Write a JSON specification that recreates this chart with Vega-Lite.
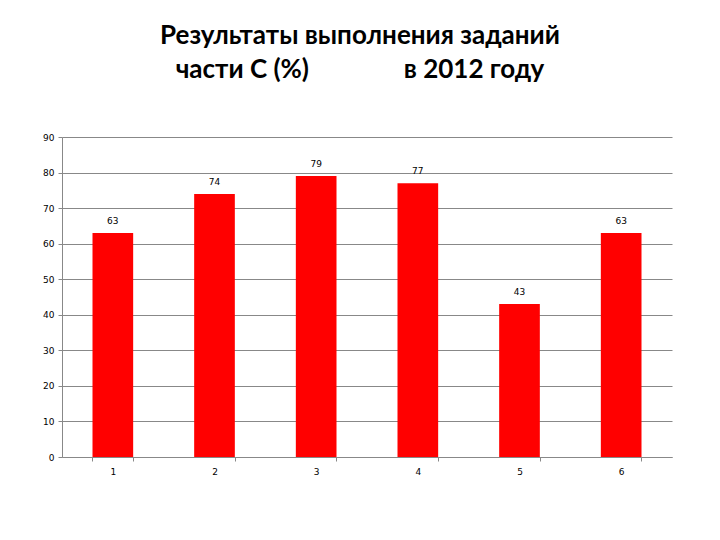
{
  "$schema": "https://vega.github.io/schema/vega-lite/v6.json",
  "width": 610,
  "height": 320,
  "autosize": {"type": "none"},
  "padding": {"left": 62, "top": 137, "right": 48, "bottom": 83},
  "background": "white",
  "title": {
    "text": ["Результаты выполнения заданий", "части С (%)\u00a0\u00a0\u00a0\u00a0\u00a0\u00a0\u00a0\u00a0\u00a0\u00a0\u00a0\u00a0\u00a0\u00a0\u00a0в 2012 году"],
    "font": "Lato",
    "fontSize": 26,
    "fontWeight": "bold",
    "color": "black",
    "lineHeight": 34,
    "anchor": "middle",
    "dx": -7,
    "frame": "group",
    "offset": 50
  },
  "data": {
    "values": [
      {"task": "1", "value": 63},
      {"task": "2", "value": 74},
      {"task": "3", "value": 79},
      {"task": "4", "value": 77},
      {"task": "5", "value": 43},
      {"task": "6", "value": 63}
    ]
  },
  "config": {
    "view": {"stroke": null},
    "axis": {
      "labelFont": "DejaVu Sans",
      "labelFontSize": 9,
      "labelColor": "black",
      "domainColor": "#888888",
      "tickColor": "#888888",
      "gridColor": "#888888",
      "title": null
    }
  },
  "encoding": {
    "x": {
      "field": "task",
      "type": "nominal",
      "scale": {"paddingInner": 0.6, "paddingOuter": 0.3},
      "axis": {"labelAngle": 0, "tickBand": "extent", "tickSize": 4, "labelPadding": 6, "grid": false}
    },
    "y": {
      "field": "value",
      "type": "quantitative",
      "scale": {"domain": [0, 90], "nice": false},
      "axis": {"values": [0, 10, 20, 30, 40, 50, 60, 70, 80, 90], "tickSize": 4, "labelPadding": 4, "grid": true}
    }
  },
  "layer": [
    {"mark": {"type": "bar", "color": "#ff0000"}},
    {
      "mark": {"type": "text", "font": "DejaVu Sans", "fontSize": 9, "color": "black", "baseline": "middle", "dy": -12},
      "encoding": {"text": {"field": "value", "type": "quantitative"}}
    }
  ]
}
